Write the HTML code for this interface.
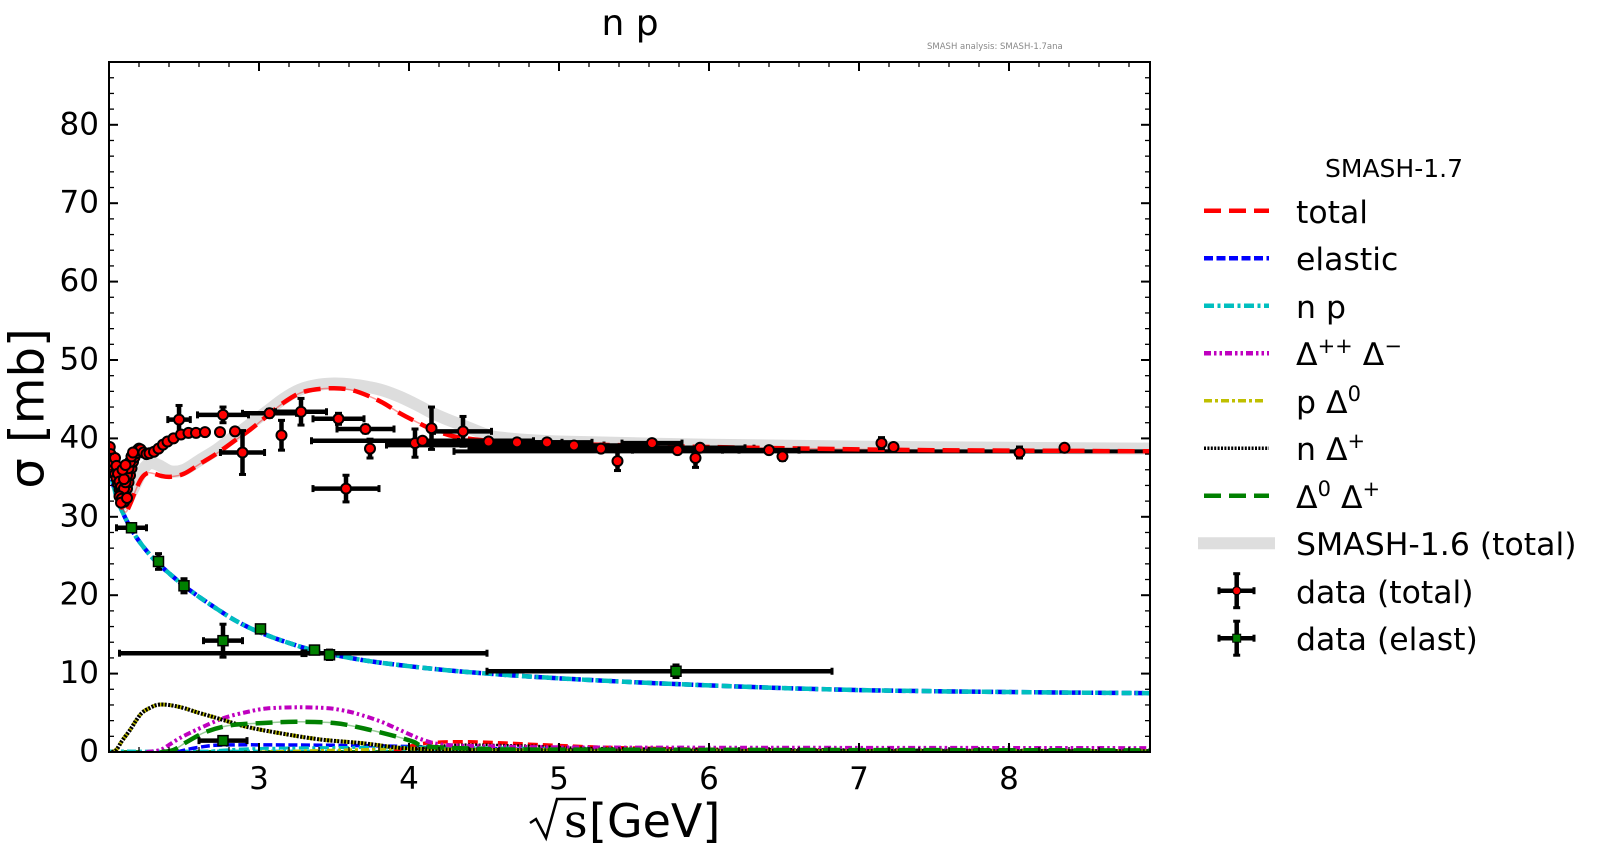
<!DOCTYPE html>
<html><head><meta charset="utf-8">
<style>
html,body{margin:0;padding:0;background:#fff;}
svg{display:block;font-family:"DejaVu Sans","Liberation Sans",sans-serif;}
</style></head>
<body>
<svg id="s" width="1600" height="856" viewBox="0 0 1600 856" xmlns="http://www.w3.org/2000/svg">
<defs><clipPath id="c"><rect x="109" y="62" width="1041" height="690"/></clipPath></defs>
<rect width="1600" height="856" fill="#fff"/>
<g id="plot" clip-path="url(#c)"></g>
<rect x="109" y="62" width="1041" height="690" fill="none" stroke="#000" stroke-width="2"/>
<g id="axes"></g>
<text x="630" y="35" font-size="36" text-anchor="middle">n p</text>
<text x="927" y="49" font-size="8.5" fill="#888">SMASH analysis: SMASH-1.7ana</text>
<text transform="translate(43.5,408.5) rotate(-90)" text-anchor="middle" font-size="48">σ [mb]</text>
<path d="M530,823 L536,819 L546,838 L557,799 L586,799" fill="none" stroke="#000" stroke-width="2.5"/>
<text x="564" y="837" font-size="46" font-family="DejaVu Serif, Liberation Serif, serif">s</text>
<text x="589" y="837" font-size="46">[GeV]</text>
<g id="legend">
<text x="1394" y="177" font-size="25" text-anchor="middle">SMASH-1.7</text>
<text x="1296" y="223" font-size="31.5">total</text>
<text x="1296" y="270" font-size="31.5">elastic</text>
<text x="1296" y="318" font-size="31.5">n p</text>
<text x="1296" y="365" font-size="31.5">Δ<tspan dy="-12" font-size="21">++</tspan><tspan dy="12" font-size="31.5"> Δ</tspan><tspan dy="-12" font-size="21">−</tspan></text>
<text x="1296" y="413" font-size="31.5">p Δ<tspan dy="-12" font-size="21">0</tspan></text>
<text x="1296" y="460" font-size="31.5">n Δ<tspan dy="-12" font-size="21">+</tspan></text>
<text x="1296" y="508" font-size="31.5">Δ<tspan dy="-12" font-size="21">0</tspan><tspan dy="12" font-size="31.5"> Δ</tspan><tspan dy="-12" font-size="21">+</tspan></text>
<text x="1296" y="555" font-size="31.5">SMASH-1.6 (total)</text>
<text x="1296" y="603" font-size="31.5">data (total)</text>
<text x="1296" y="650" font-size="31.5">data (elast)</text>
</g>
</svg>
<script>
(function(){
const NS='http://www.w3.org/2000/svg';
const X=x=>109+(x-2)*150, Y=y=>752-y*7.84;
function el(parent,tag,attrs,text){const e=document.createElementNS(NS,tag);for(const k in attrs)e.setAttribute(k,attrs[k]);if(text!=null)e.textContent=text;parent.appendChild(e);return e;}
function sp(data){const p=data.map(d=>[X(d[0]),Y(d[1])]);let s='M'+p[0][0].toFixed(1)+','+p[0][1].toFixed(1);
 for(let i=0;i<p.length-1;i++){const p0=p[i-1]||p[i],p1=p[i],p2=p[i+1],p3=p[i+2]||p2;
  const c1=[p1[0]+(p2[0]-p0[0])/6,p1[1]+(p2[1]-p0[1])/6];const c2=[p2[0]-(p3[0]-p1[0])/6,p2[1]-(p3[1]-p1[1])/6];
  s+=' C'+c1[0].toFixed(1)+','+c1[1].toFixed(1)+' '+c2[0].toFixed(1)+','+c2[1].toFixed(1)+' '+p2[0].toFixed(1)+','+p2[1].toFixed(1);}
 return s;}
const g=document.getElementById('plot');
function curve(data,color,w,dash,op){el(g,'path',{d:sp(data),fill:'none',stroke:color,'stroke-width':w,'stroke-dasharray':dash||'none','stroke-opacity':op||1,'stroke-linecap':'butt'});}

const gray=[[2.06,33.5],[2.1,31.6],[2.16,33.5],[2.22,35.8],[2.27,36.8],[2.33,36.6],[2.41,35.8],[2.5,36.0],[2.61,37.3],[2.72,38.6],[2.83,40.2],[2.94,41.8],[3.05,43.4],[3.16,45.0],[3.27,46.2],[3.38,46.8],[3.5,47.0],[3.61,46.9],[3.72,46.6],[3.83,46.1],[3.94,45.3],[4.05,44.3],[4.16,43.2],[4.27,42.3],[4.38,41.5],[4.5,40.6],[4.61,40.1],[5.0,39.6],[6,39.2],[7,38.95],[8,38.8],[8.94,38.7]];
curve(gray,'#dddddd',12);

curve([[2.0,0.08],[8.94,0.08]],'#008000',2.5,'8 4');
curve([[2.0,0.15],[8.94,0.12]],'#00bfbf',2.5,'9 3 3 3');
curve([[2.45,0],[2.6,0.6],[2.8,0.9],[3.5,0.85],[4.0,0.7],[4.5,0.45],[5,0.3],[6,0.15],[8.94,0.05]],'#0000ff',3.5,'9 3.5');
curve([[2.6,0],[3,0.45],[4,0.6],[5,0.45],[6,0.3],[8.94,0.15]],'#00bfbf',3,'10 3.5 3 3.5');
curve([[3.0,0],[4,0.4],[5,0.3],[8.94,0.1]],'#bfbf00',3,'8 3 3 3');
curve([[3.9,0.1],[4.1,1.1],[4.4,1.3],[4.8,1.0],[5.3,0.6],[6,0.35],[7,0.2],[8.94,0.1]],'#ff0000',3.5,'10 5');
curve([[4.0,0.2],[4.3,0.9],[4.8,0.8],[5.5,0.45],[8.94,0.2]],'#000',2.5,'2 1.5');

const ela=[[2.0,36.3],[2.05,32.6],[2.1,30.2],[2.15,28.4],[2.2,26.9],[2.27,25.2],[2.33,24.0],[2.4,22.8],[2.5,21.2],[2.6,19.8],[2.7,18.5],[2.84,16.8],[3.0,15.3],[3.2,13.9],[3.4,12.8],[3.7,11.7],[4.0,10.95],[4.3,10.35],[4.67,9.8],[5.0,9.4],[5.5,8.9],[6.0,8.5],[6.5,8.15],[7.0,7.9],[7.5,7.75],[8.0,7.65],[8.5,7.57],[8.94,7.5]];
curve(ela,'#0000ff',4.5,'9 3.5');
curve(ela,'#00bfbf',4.5,'10 3.5 3 3.5');

const mag=[[2.25,0],[2.34,0.25],[2.4,0.9],[2.47,1.75],[2.58,2.8],[2.76,4.3],[2.92,5.1],[3.05,5.55],[3.25,5.7],[3.45,5.6],[3.56,5.3],[3.65,4.9],[3.81,3.9],[3.94,2.8],[4.1,1.5],[4.25,0.9],[4.6,0.7],[5,0.6],[6,0.55],[8.94,0.5]];
curve(mag,'#bf00bf',4,'7 3 2.5 3 2.5 3');
const nd=[[2.02,0],[2.05,0.3],[2.09,1.5],[2.14,2.8],[2.18,4.0],[2.22,5.0],[2.27,5.6],[2.32,6.0],[2.37,6.05],[2.43,5.9],[2.5,5.6],[2.58,5.1],[2.67,4.6],[2.76,4.1],[2.92,3.2],[3.14,2.4],[3.41,1.6],[3.7,1.1],[3.96,0.5],[4.3,0.3],[5,0.2],[6,0.15],[8.94,0.1]];
curve(nd,'#bfbf00',4,'8 3 3 3');
curve(nd,'#000000',4,'2 1.4');
const gr=[[2.35,0],[2.43,0.25],[2.52,1.3],[2.65,2.6],[2.81,3.4],[3.03,3.7],[3.25,3.85],[3.5,3.7],[3.7,3.0],[3.92,1.95],[4.03,1.3],[4.12,0.7],[4.5,0.4],[5,0.3],[8.94,0.2]];
curve(gr,'#008000',1.5,null,0.4);
curve(gr,'#008000',4.5,'17 8');

const tot=[[2.05,33.0],[2.08,31.5],[2.11,30.6],[2.14,31.6],[2.18,33.5],[2.22,35.0],[2.26,35.6],[2.3,35.5],[2.35,35.2],[2.41,35.1],[2.5,35.5],[2.61,36.8],[2.72,38.1],[2.83,39.6],[2.94,41.1],[3.05,42.8],[3.16,44.5],[3.27,45.75],[3.38,46.25],[3.5,46.4],[3.61,46.2],[3.72,45.5],[3.83,44.5],[3.94,43.2],[4.05,42.1],[4.16,41.1],[4.27,40.4],[4.38,40.0],[4.5,39.75],[4.61,39.6],[5.0,39.3],[5.5,39.1],[6.0,38.9],[6.5,38.75],[7.0,38.6],[7.5,38.5],[8.0,38.45],[8.5,38.4],[8.94,38.35]];
curve(tot,'#ff0000',1.5,null,0.4);

const EW=4.5;
function hbar(x1,x2,y,w){el(g,'line',{x1:X(x1),x2:X(x2),y1:Y(y),y2:Y(y),stroke:'#000','stroke-width':w||EW});
 el(g,'line',{x1:X(x1),x2:X(x1),y1:Y(y)-3.5,y2:Y(y)+3.5,stroke:'#000','stroke-width':3});
 el(g,'line',{x1:X(x2),x2:X(x2),y1:Y(y)-3.5,y2:Y(y)+3.5,stroke:'#000','stroke-width':3});}
hbar(4.3,9.2,38.35,4);
hbar(3.85,5.3,39.15,4.5);
hbar(4.4,6.3,38.75,4.5);

curve(tot,'#ff0000',4.5,'17 8');

function eb(x,y,xl,xh,ye){
 if(xl>0||xh>0){el(g,'line',{x1:X(x-xl),x2:X(x+xh),y1:Y(y),y2:Y(y),stroke:'#000','stroke-width':EW});
  el(g,'line',{x1:X(x-xl),x2:X(x-xl),y1:Y(y)-3.5,y2:Y(y)+3.5,stroke:'#000','stroke-width':3});
  el(g,'line',{x1:X(x+xh),x2:X(x+xh),y1:Y(y)-3.5,y2:Y(y)+3.5,stroke:'#000','stroke-width':3});}
 if(ye>0){el(g,'line',{x1:X(x),x2:X(x),y1:Y(y-ye),y2:Y(y+ye),stroke:'#000','stroke-width':EW});
  el(g,'line',{x1:X(x)-3.5,x2:X(x)+3.5,y1:Y(y-ye),y2:Y(y-ye),stroke:'#000','stroke-width':3});
  el(g,'line',{x1:X(x)-3.5,x2:X(x)+3.5,y1:Y(y+ye),y2:Y(y+ye),stroke:'#000','stroke-width':3});}
}
const totalData=[[2.467,42.4,0.075,0.075,1.8],[2.76,43.0,0.17,0.17,1.0],[3.07,43.2,0.18,0.18,0.5],[3.28,43.4,0.17,0.17,1.7],[3.15,40.4,0,0,1.9],[2.89,38.2,0.147,0.147,2.8],[3.53,42.5,0.17,0.17,0.7],[3.71,41.2,0.19,0.19,0.5],[3.74,38.7,0,0,1.2],[3.58,33.6,0.22,0.22,1.7],[4.04,39.4,0,0,1.8],[4.09,39.7,0.74,0.74,0.3],[4.15,41.3,0,0,2.7],[4.36,40.9,0.19,0.19,1.9],[4.53,39.6,0.2,0.2,0.3],[4.72,39.5,0.3,0.3,0.3],[4.92,39.5,0.3,0.3,0.3],[5.1,39.1,0.5,0.5,0.3],[5.28,38.7,0.3,0.3,0.3],[5.39,37.1,0,0,1.2],[5.62,39.4,0.2,0.2,0.3],[5.79,38.5,0.3,0.3,0.3],[5.91,37.5,0,0,1.2],[5.94,38.8,0.3,0.3,0.3],[6.4,38.5,0.2,0.2,0.3],[6.49,37.7,0,0,0.5],[7.15,39.4,0,0,0.7],[7.23,38.9,0,0,0.3],[8.07,38.2,0,0,0.7],[8.37,38.8,0,0,0.3]];
const elastData=[[2.15,28.6,0.1,0.1,0.5],[2.33,24.3,0,0,1.0],[2.5,21.2,0,0,0.9],[2.76,14.2,0.13,0.13,2.1],[3.01,15.7,0,0,0.5],[3.3,12.6,1.23,1.22,0.3],[3.37,13.0,0,0,0.5],[3.47,12.4,0,0,0.6],[5.78,10.3,1.26,1.04,0.8],[2.76,1.45,0.16,0.16,0.5]];
totalData.forEach(d=>eb(...d));
elastData.forEach(d=>eb(...d));
const dense=[[2.005,38.9],[2.01,38.0],[2.015,37.4],[2.02,36.8],[2.03,36.0],[2.04,35.4],[2.05,34.9],[2.06,34.2],[2.07,33.5],[2.08,33.0],[2.09,32.6],[2.1,32.5],[2.11,32.9],[2.12,33.6],[2.13,34.4],[2.14,35.3],[2.15,36.2],[2.16,37.0],[2.17,37.6],[2.18,38.1],[2.19,38.5],[2.2,38.7],[2.21,38.6],[2.23,38.2],[2.25,38.0],[2.27,38.1],[2.3,38.3],[2.33,38.7],[2.36,39.2],[2.39,39.6],[2.43,40.0],[2.48,40.5],[2.53,40.7],[2.58,40.7],[2.64,40.8],[2.74,40.8],[2.84,40.9],
[2.04,37.5],[2.05,36.5],[2.06,35.5],[2.07,34.5],[2.08,33.8],[2.09,33.3],[2.1,33.6],[2.11,34.4],[2.12,35.3],[2.13,36.2],[2.14,37.0],[2.15,37.7],[2.16,38.2],[2.07,32.6],[2.085,32.3],[2.1,34.8],[2.09,36.0],[2.11,36.6],[2.1,31.9],[2.08,31.8],[2.12,32.4]];
function circ(x,y){el(g,'circle',{cx:X(x),cy:Y(y),r:5,fill:'#ff0000',stroke:'#000','stroke-width':2});}
dense.forEach(d=>circ(d[0],d[1]));
totalData.forEach(d=>circ(d[0],d[1]));
elastData.forEach(d=>{if(d[0]===3.3)return;el(g,'rect',{x:X(d[0])-5,y:Y(d[1])-5,width:10,height:10,fill:'#008000',stroke:'#000','stroke-width':1.5});});

const a=document.getElementById('axes');
function ln(x1,y1,x2,y2,w){el(a,'line',{x1,y1,x2,y2,stroke:'#000','stroke-width':w});}
for(let i=11;i<=44;i++){const x=i/5; if(x>8.95)break; const px=X(x); const major=(i%5===0);const L=major?9:5;const w=major?2:1.3;
 if(px<=110)continue; ln(px,752,px,752-L,w); ln(px,62,px,62+L,w);
 if(major){el(a,'text',{x:px,y:789,'font-size':31,'text-anchor':'middle'},String(x));}}
for(let v=0;v<=88;v+=2){const py=Y(v);const major=(v%10===0);const L=major?9:5;const w=major?2:1.3;
 if(v>0&&v<88){ln(109,py,109+L,py,w); ln(1150,py,1150-L,py,w);}
 if(major){el(a,'text',{x:99,y:py+9.5,'font-size':31,'text-anchor':'end'},String(v));}}

const L=document.getElementById('legend');
function lline(y,color,dash,w,x2){el(L,'line',{x1:1204,x2:x2||1269,y1:y,y2:y,stroke:color,'stroke-width':w||4.5,'stroke-dasharray':dash});}
lline(210.7,'#ff0000','17 8');
lline(258.2,'#0000ff','9 3.5');
lline(305.7,'#00bfbf','10 3.5 3 3.5');
lline(353.2,'#bf00bf','7 3 2.5 3 2.5 3');
lline(400.7,'#bfbf00','8 3 3 3',3.5,1266);
lline(448.2,'#000','2 1.4',3.5);
lline(495.7,'#008000','17 8');
el(L,'line',{x1:1198,x2:1275,y1:543.2,y2:543.2,stroke:'#dedede','stroke-width':12});
function lmark(y,sq){const cx=1236.7;
 el(L,'line',{x1:1219,x2:1254,y1:y,y2:y,stroke:'#000','stroke-width':4.5});
 el(L,'line',{x1:cx,x2:cx,y1:y-17,y2:y+17,stroke:'#000','stroke-width':4.5});
 el(L,'line',{x1:1219,x2:1219,y1:y-3.5,y2:y+3.5,stroke:'#000','stroke-width':3});
 el(L,'line',{x1:1254,x2:1254,y1:y-3.5,y2:y+3.5,stroke:'#000','stroke-width':3});
 el(L,'line',{x1:cx-3.5,x2:cx+3.5,y1:y-17,y2:y-17,stroke:'#000','stroke-width':3});
 el(L,'line',{x1:cx-3.5,x2:cx+3.5,y1:y+17,y2:y+17,stroke:'#000','stroke-width':3});
 if(sq)el(L,'rect',{x:cx-4,y:y-4,width:8,height:8,fill:'#008000',stroke:'#000','stroke-width':1});
 else el(L,'circle',{cx:cx,cy:y,r:4,fill:'#ff0000',stroke:'#000','stroke-width':1.3});}
lmark(590.7,false);
lmark(638.2,true);
})();
</script>
</body></html>
